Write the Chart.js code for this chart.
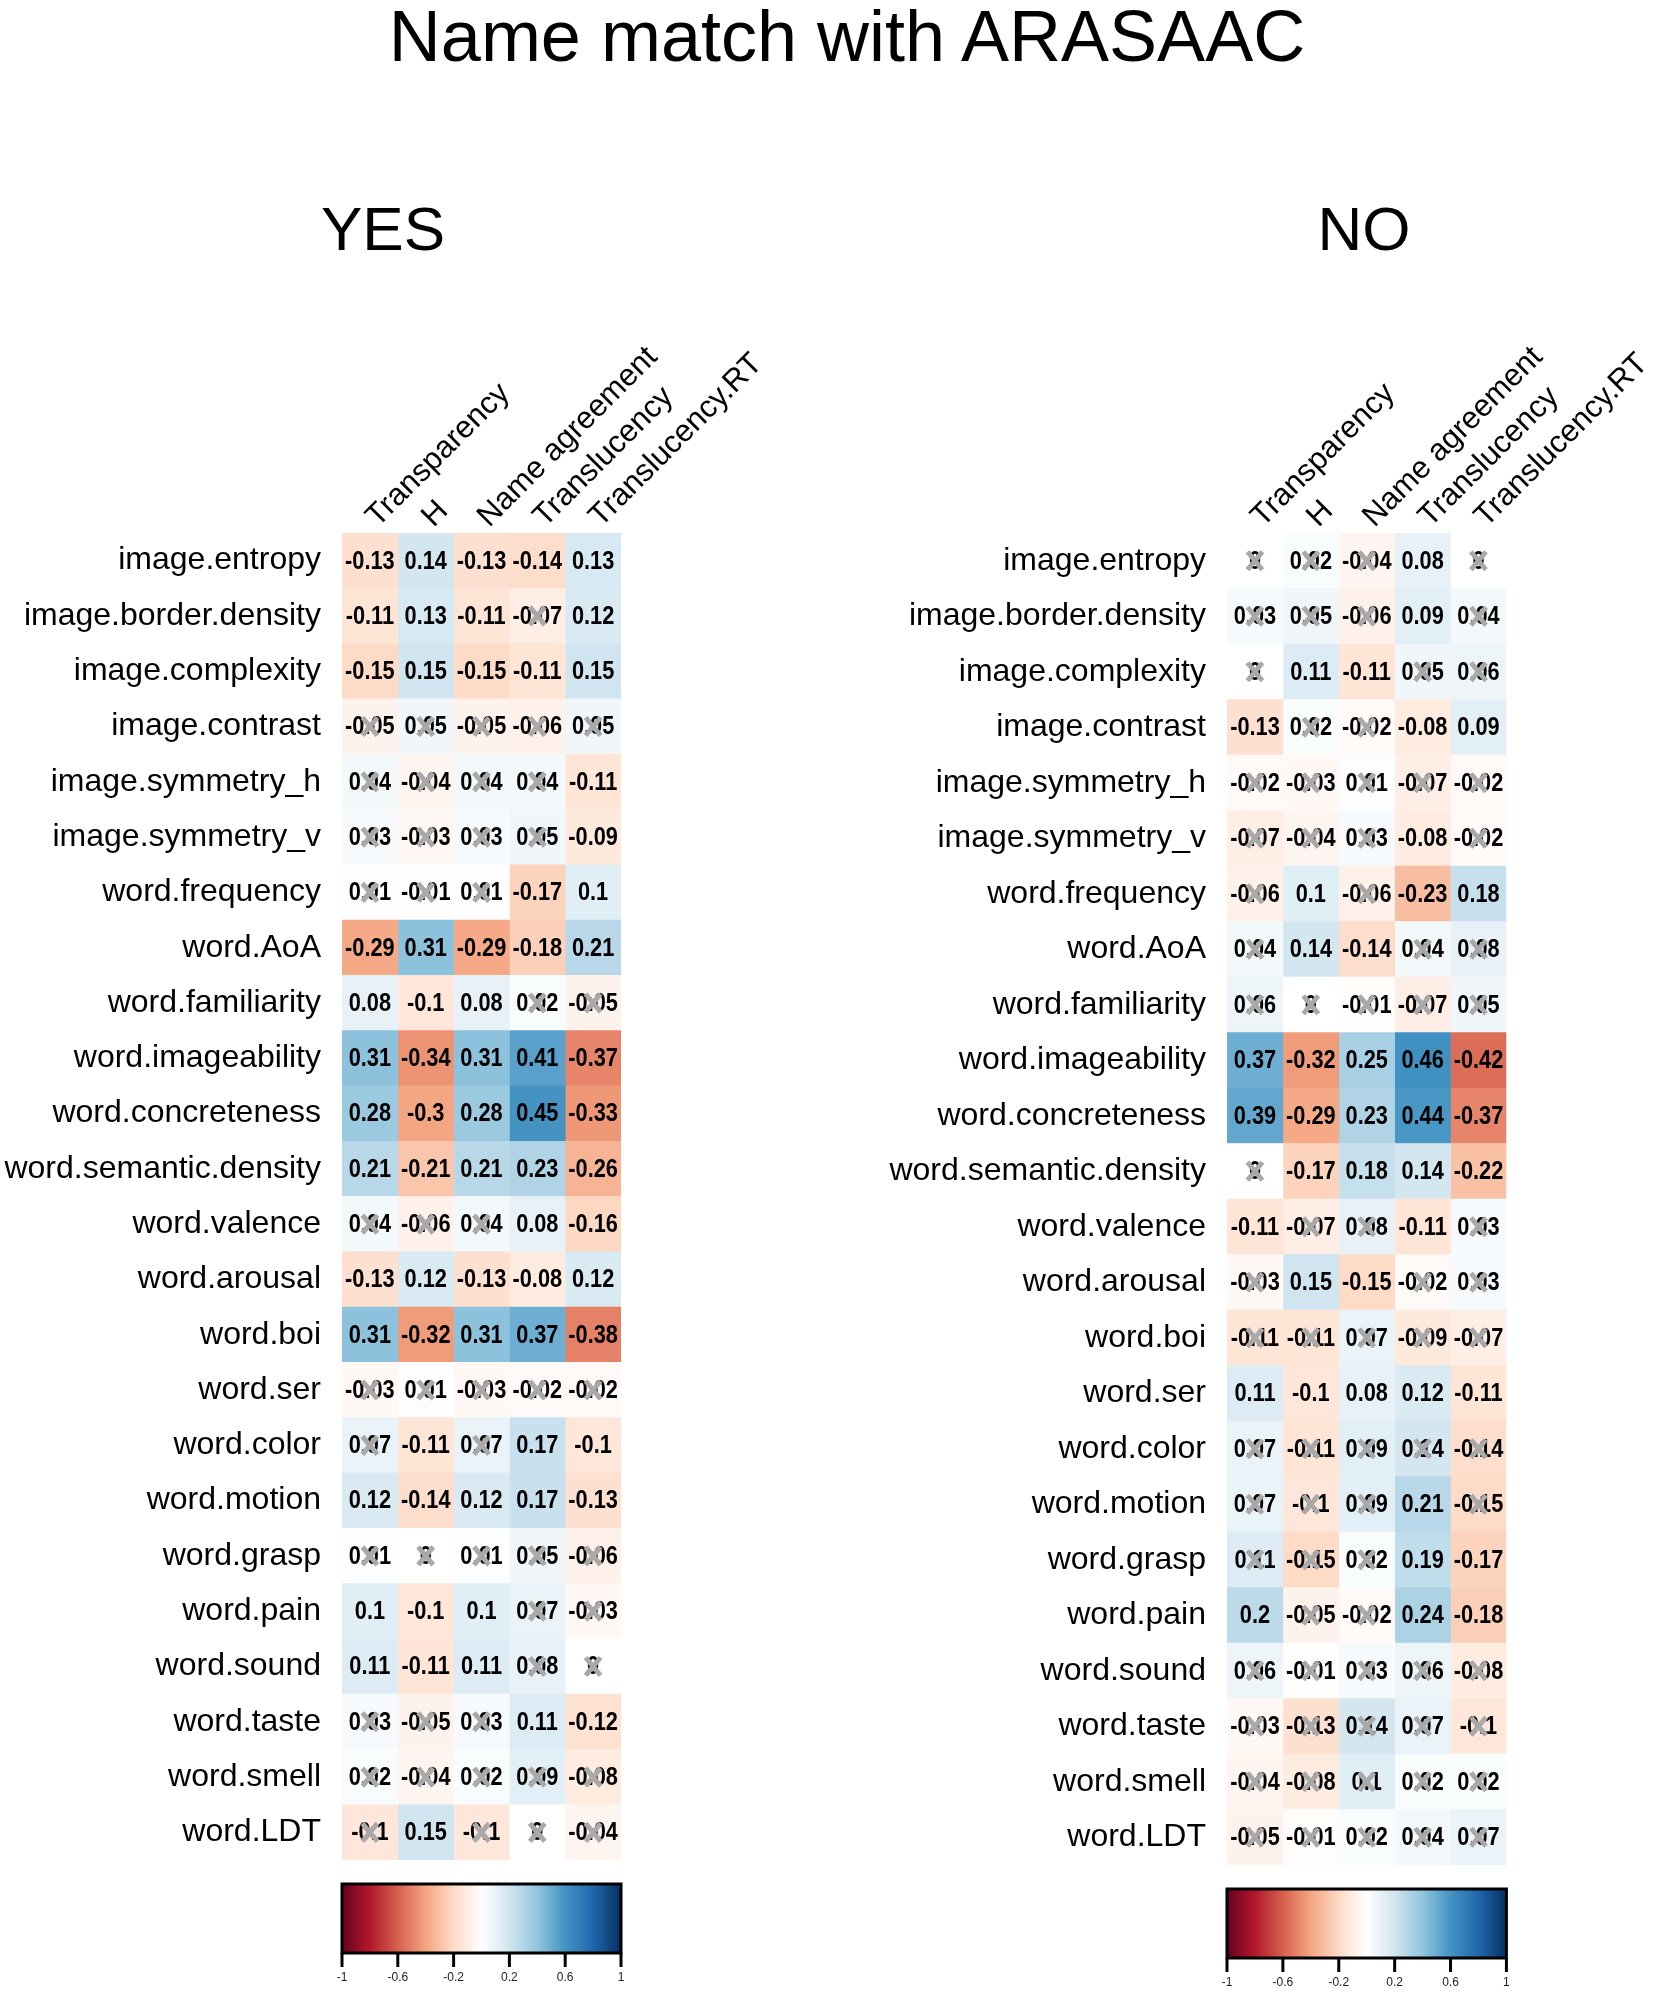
<!DOCTYPE html>
<html>
<head>
<meta charset="utf-8">
<script src="https://cdn.jsdelivr.net/npm/chart.js@4.4.1/dist/chart.umd.min.js"></script>
<style>
  body { margin: 0; background: #fff; width: 1654px; height: 1992px; position: relative; overflow: hidden;
         font-family: "Liberation Sans", Arial, sans-serif; }
  .t { position: absolute; text-align: center; line-height: 1; color: #000; white-space: nowrap; }
  canvas { position: absolute; top: 0; }
</style>
</head>
<body>
<div class="t" style="left:0;width:1694px;top:0;font-size:72px">Name match with ARASAAC</div>
<div class="t" style="left:283px;width:200px;top:198px;font-size:62px">YES</div>
<div class="t" style="left:1264px;width:200px;top:198px;font-size:62px">NO</div>
<canvas id="yes" width="827" height="1992" style="left:0"></canvas>
<canvas id="no" width="827" height="1992" style="left:827px"></canvas>
<script>
// rows and columns of both matrices
const rowNames = ['image.entropy', 'image.border.density', 'image.complexity', 'image.contrast',
  'image.symmetry_h', 'image.symmetry_v', 'word.frequency', 'word.AoA', 'word.familiarity',
  'word.imageability', 'word.concreteness', 'word.semantic.density', 'word.valence', 'word.arousal',
  'word.boi', 'word.ser', 'word.color', 'word.motion', 'word.grasp', 'word.pain', 'word.sound',
  'word.taste', 'word.smell', 'word.LDT'];
const colNames = ['Transparency', 'H', 'Name agreement', 'Translucency', 'Translucency.RT'];

// YES panel: correlations per column, and 1 = not significant (crossed)
const yesTransparency = [-0.13, -0.11, -0.15, -0.05, 0.04, 0.03, 0.01, -0.29, 0.08, 0.31, 0.28, 0.21, 0.04, -0.13, 0.31, -0.03, 0.07, 0.12, 0.01, 0.1, 0.11, 0.03, 0.02, -0.1];
const yesH = [0.14, 0.13, 0.15, 0.05, -0.04, -0.03, -0.01, 0.31, -0.1, -0.34, -0.3, -0.21, -0.06, 0.12, -0.32, 0.01, -0.11, -0.14, 0, -0.1, -0.11, -0.05, -0.04, 0.15];
const yesNameAgreement = [-0.13, -0.11, -0.15, -0.05, 0.04, 0.03, 0.01, -0.29, 0.08, 0.31, 0.28, 0.21, 0.04, -0.13, 0.31, -0.03, 0.07, 0.12, 0.01, 0.1, 0.11, 0.03, 0.02, -0.1];
const yesTranslucency = [-0.14, -0.07, -0.11, -0.06, 0.04, 0.05, -0.17, -0.18, 0.02, 0.41, 0.45, 0.23, 0.08, -0.08, 0.37, -0.02, 0.17, 0.17, 0.05, 0.07, 0.08, 0.11, 0.09, 0];
const yesTranslucencyRT = [0.13, 0.12, 0.15, 0.05, -0.11, -0.09, 0.1, 0.21, -0.05, -0.37, -0.33, -0.26, -0.16, 0.12, -0.38, -0.02, -0.1, -0.13, -0.06, -0.03, 0, -0.12, -0.08, -0.04];
const yesNsTransparency = [0,0,0,1,1,1,1,0,0,0,0,0,1,0,0,1,1,0,1,0,0,1,1,1];
const yesNsH = [0,0,0,1,1,1,1,0,0,0,0,0,1,0,0,1,0,0,1,0,0,1,1,0];
const yesNsNameAgreement = [0,0,0,1,1,1,1,0,0,0,0,0,1,0,0,1,1,0,1,0,0,1,1,1];
const yesNsTranslucency = [0,1,0,1,1,1,0,0,1,0,0,0,0,0,0,1,0,0,1,1,1,0,1,1];
const yesNsTranslucencyRT = [0,0,0,1,0,0,0,0,1,0,0,0,0,0,0,1,0,0,1,1,1,0,1,1];

// NO panel
const noTransparency = [0, 0.03, 0, -0.13, -0.02, -0.07, -0.06, 0.04, 0.06, 0.37, 0.39, 0, -0.11, -0.03, -0.11, 0.11, 0.07, 0.07, 0.11, 0.2, 0.06, -0.03, -0.04, -0.05];
const noH = [0.02, 0.05, 0.11, 0.02, -0.03, -0.04, 0.1, 0.14, 0, -0.32, -0.29, -0.17, -0.07, 0.15, -0.11, -0.1, -0.11, -0.1, -0.15, -0.05, -0.01, -0.13, -0.08, -0.01];
const noNameAgreement = [-0.04, -0.06, -0.11, -0.02, 0.01, 0.03, -0.06, -0.14, -0.01, 0.25, 0.23, 0.18, 0.08, -0.15, 0.07, 0.08, 0.09, 0.09, 0.02, -0.02, 0.03, 0.14, 0.1, 0.02];
const noTranslucency = [0.08, 0.09, 0.05, -0.08, -0.07, -0.08, -0.23, 0.04, -0.07, 0.46, 0.44, 0.14, -0.11, -0.02, -0.09, 0.12, 0.14, 0.21, 0.19, 0.24, 0.06, 0.07, 0.02, 0.04];
const noTranslucencyRT = [0, 0.04, 0.06, 0.09, -0.02, -0.02, 0.18, 0.08, 0.05, -0.42, -0.37, -0.22, 0.03, 0.03, -0.07, -0.11, -0.14, -0.15, -0.17, -0.18, -0.08, -0.1, 0.02, 0.07];
const noNsTransparency = [1,1,1,0,1,1,1,1,1,0,0,1,0,1,1,0,1,1,1,0,1,1,1,1];
const noNsH = [1,1,0,1,1,1,0,0,1,0,0,0,1,0,1,0,1,1,1,1,1,1,1,1];
const noNsNameAgreement = [1,1,0,1,1,1,1,0,1,0,0,0,1,0,1,0,1,1,1,1,1,1,1,1];
const noNsTranslucency = [0,0,1,0,1,0,0,1,1,0,0,0,0,1,1,0,1,0,0,0,1,1,1,1];
const noNsTranslucencyRT = [1,1,1,0,1,1,0,1,1,0,0,0,1,1,1,0,1,1,0,0,1,1,1,1];

const colorbarTicks = [-1, -0.6, -0.2, 0.2, 0.6, 1];

const FONT = '"Liberation Sans", Arial, sans-serif';
const rdbu = ['#67001F', '#B2182B', '#D6604D', '#F4A582', '#FDDBC7', '#FFFFFF',
              '#D1E5F0', '#92C5DE', '#4393C3', '#2166AC', '#053061'];

function hex(h) { return [1, 3, 5].map(i => parseInt(h.slice(i, i + 2), 16)); }
// the cells in the picture read a bit stronger than the plain ramp, so push the shade a little
function corColor(v, gain) {
  const s = Math.max(-1, Math.min(1, v * gain));
  const t = (s + 1) / 2 * 10;
  const i = Math.min(9, Math.floor(t));
  const f = t - i;
  const a = hex(rdbu[i]), b = hex(rdbu[i + 1]);
  return 'rgb(' + a.map((c, k) => Math.round(c + (b[k] - c) * f)).join(',') + ')';
}
function fmt(v) { return v === 0 ? '0' : String(+v.toFixed(2)); }

// numbers in the cells, with a grey cross over the non-significant ones
const cellText = {
  id: 'cellText',
  afterDatasetsDraw(chart) {
    const ctx = chart.ctx;
    ctx.save();
    ctx.font = 'bold 25px ' + FONT;
    ctx.textAlign = 'center';
    ctx.textBaseline = 'middle';
    chart.data.datasets.forEach((ds, i) => {
      chart.getDatasetMeta(i).data.forEach((bar, j) => {
        const cx = (bar.x + bar.base) / 2, cy = bar.y;
        ctx.save();
        ctx.translate(cx, cy + 1);
        ctx.scale(0.87, 1);
        ctx.fillStyle = '#000';
        ctx.fillText(fmt(ds.values[j]), 0, 0);
        ctx.restore();
        if (ds.ns[j]) {
          ctx.strokeStyle = '#a9a9a9';
          ctx.lineWidth = 5;
          ctx.beginPath();
          ctx.moveTo(cx - 7.5, cy - 9); ctx.lineTo(cx + 7.5, cy + 9);
          ctx.moveTo(cx + 7.5, cy - 9); ctx.lineTo(cx - 7.5, cy + 9);
          ctx.stroke();
        }
      });
    });
    ctx.restore();
  }
};

// colour legend under each matrix
const colorBar = {
  id: 'colorBar',
  afterDraw(chart) {
    const ctx = chart.ctx, xs = chart.scales.x, a = chart.chartArea;
    const px = v => xs.getPixelForValue((v + 1) / 2 * 5);
    const top = a.bottom + 24, h = 69;
    const g = ctx.createLinearGradient(px(-1), 0, px(1), 0);
    rdbu.forEach((c, k) => g.addColorStop(k / 10, c));
    ctx.save();
    ctx.fillStyle = g;
    ctx.fillRect(px(-1), top, px(1) - px(-1), h);
    ctx.strokeStyle = '#000';
    ctx.lineWidth = 3;
    ctx.strokeRect(px(-1), top, px(1) - px(-1), h);
    ctx.fillStyle = '#222';
    ctx.font = '12px ' + FONT;
    ctx.textAlign = 'center';
    ctx.textBaseline = 'middle';
    colorbarTicks.forEach(v => {
      ctx.beginPath();
      ctx.moveTo(px(v), top + h);
      ctx.lineTo(px(v), top + h + 14);
      ctx.stroke();
      ctx.fillText(String(v), px(v), top + h + 25);
    });
    ctx.restore();
  }
};

function makePanel(id, cols, ns, axisW, padRight, padBottom) {
  return new Chart(document.getElementById(id), {
    type: 'bar',
    data: {
      labels: rowNames,
      datasets: colNames.map((c, i) => ({
        label: c,
        data: cols[i].map(() => 1),
        values: cols[i],
        ns: ns[i],
        backgroundColor: cols[i].map(v => corColor(v, 1.33)),
        borderWidth: 0,
        barPercentage: 1,
        categoryPercentage: 1
      }))
    },
    options: {
      indexAxis: 'y',
      responsive: false,
      animation: false,
      devicePixelRatio: 1,
      layout: { padding: { left: 0, right: padRight, top: 0, bottom: padBottom } },
      plugins: { legend: { display: false }, tooltip: { enabled: false } },
      scales: {
        x: { type: 'linear', min: 0, max: 5, stacked: true, display: false },
        y: {
          type: 'category', stacked: true, position: 'left',
          grid: { display: false, drawTicks: false }, border: { display: false },
          ticks: { color: '#000', font: { size: 32, family: FONT }, padding: 21, autoSkip: false },
          afterFit(s) { s.width = axisW; }
        },
        top: {
          axis: 'x', type: 'category', labels: colNames, position: 'top', offset: true,
          grid: { display: false, drawTicks: false }, border: { display: false },
          ticks: { color: '#000', font: { size: 31, family: FONT }, minRotation: 45, maxRotation: 45,
                   autoSkip: false, padding: -2, labelOffset: 28 },
          afterFit(s) { s.height = 533; }
        }
      }
    },
    plugins: [cellText, colorBar]
  });
}

makePanel('yes',
  [yesTransparency, yesH, yesNameAgreement, yesTranslucency, yesTranslucencyRT],
  [yesNsTransparency, yesNsH, yesNsNameAgreement, yesNsTranslucency, yesNsTranslucencyRT],
  342, 206, 132);
makePanel('no',
  [noTransparency, noH, noNameAgreement, noTranslucency, noTranslucencyRT],
  [noNsTransparency, noNsH, noNsNameAgreement, noNsTranslucency, noNsTranslucencyRT],
  400, 147, 127);
</script>
</body>
</html>
